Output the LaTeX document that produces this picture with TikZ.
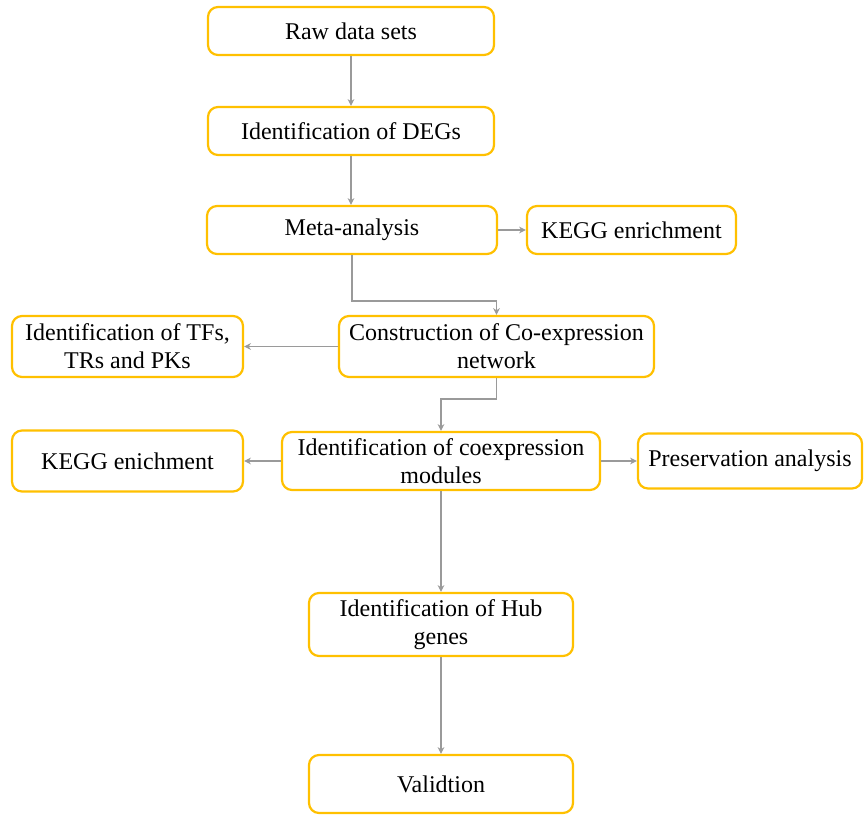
\documentclass[tikz,border=0pt]{standalone}
\usepackage{fontspec}
\setmainfont{Liberation Serif}
\usetikzlibrary{arrows.meta}
\definecolor{gold}{HTML}{FFC000}
\definecolor{arr}{HTML}{9A9A9A}
\tikzset{
  >={Stealth[length=3.4pt,width=3.4pt]},
  stage/.style={draw=gold, line width=1.1pt, rounded corners=5pt, fill=white, align=center,
                font=\fontsize{12}{14}\selectfont, inner sep=2pt},
  l/.style={->, draw=arr, line width=0.75pt},
}
\begin{document}
\begin{tikzpicture}[x=0.5pt,y=-0.5pt]
  \useasboundingbox (0,0) rectangle (864,815);
  \node[stage, minimum width=143pt, minimum height=24pt] (raw) at (351,31) {Raw data sets};
  \node[stage, minimum width=143pt, minimum height=24pt] (deg) at (351,131) {Identification of DEGs};
  \node[stage, minimum width=145pt, minimum height=24pt] (meta) at (352,230) {Meta-analysis};
  \node[stage, minimum width=104.5pt, minimum height=24pt] (kegg1) at (631.5,230) {KEGG enrichment};
  \node[stage, minimum width=157.5pt, minimum height=30.5pt] (coexp) at (496.5,346.5) {Construction of Co-expression\\network};
  \node[stage, minimum width=115.5pt, minimum height=30.5pt] (tfs) at (127.5,346.5) {Identification of TFs,\\TRs and PKs};
  \node[stage, minimum width=159pt, minimum height=29pt] (mods) at (441,461) {Identification of coexpression\\modules};
  \node[stage, minimum width=115.5pt, minimum height=30.5pt] (kegg2) at (127.5,461) {KEGG enichment};
  \node[stage, minimum width=112pt, minimum height=27.5pt] (pres) at (750,461) {Preservation analysis};
  \node[stage, minimum width=132pt, minimum height=31.5pt] (hub) at (441,624.5) {Identification of Hub\\genes};
  \node[stage, minimum width=132pt, minimum height=29pt] (valid) at (441,784) {Validtion};
  \draw[l] (raw) -- (deg);
  \draw[l] (deg.south) -- (deg.south |- meta.north);
  \draw[l] (meta) -- (kegg1);
  % meta-analysis down to the network
  \draw[l] (meta.south) -- ++(0,46) -| (coexp.north);
  \draw[l] (coexp) -- (tfs);
  % network down to the modules
  \draw[l] (coexp.south) -- ++(0,21) -| (mods.north);
  \draw[l] (mods) -- (kegg2);
  \draw[l] (mods) -- (pres);
  \draw[l] (mods) -- (hub);
  \draw[l] (hub) -- (valid);
\end{tikzpicture}
\end{document}
